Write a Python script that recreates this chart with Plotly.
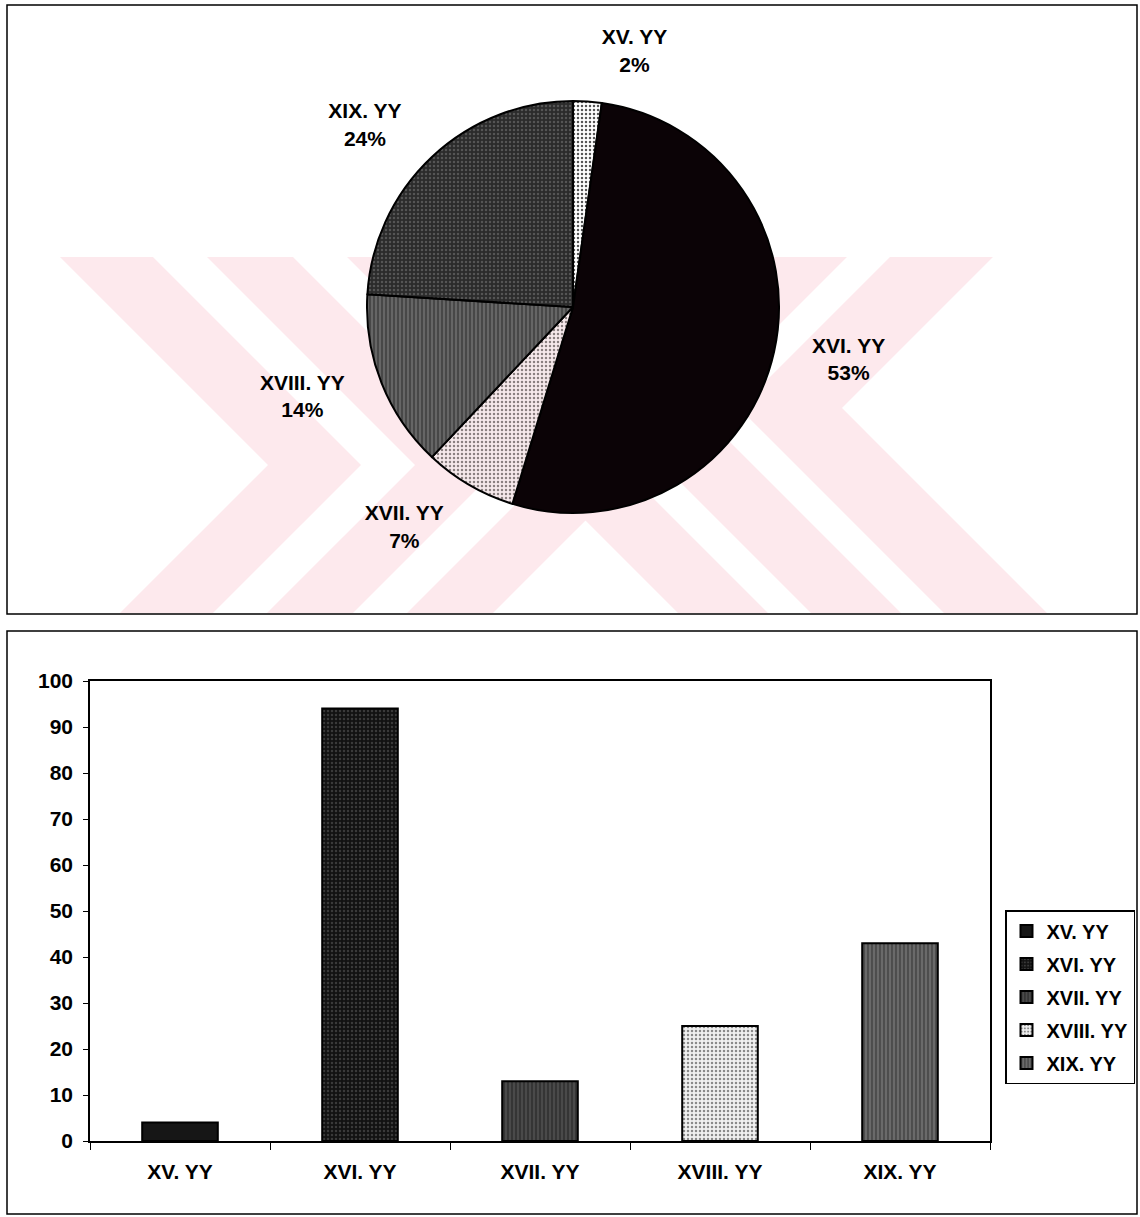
import plotly.graph_objects as go

# ---------------- data ----------------
categories = ["XV. YY", "XVI. YY", "XVII. YY", "XVIII. YY", "XIX. YY"]
counts = [4, 94, 13, 25, 43]
y_ticks = [0, 10, 20, 30, 40, 50, 60, 70, 80, 90, 100]

# ---------------- styles ----------------
W, H = 1140, 1217
FONT = "Liberation Sans, Arial, sans-serif"

pie_bg = ["#ffffff", "#0b0306", "#f6e9eb", "#666666", "#2b2b2b"]
pie_pat_shape = [".", "", ".", "|", "."]
pie_pat_fg = ["#555555", "#0b0306", "#8a8080", "#333333", "#555555"]

bar_bg = ["#161616", "#121212", "#4a4a4a", "#f0f0f0", "#6a6a6a"]
bar_pat_shape = ["", ".", "|", ".", "|"]
bar_pat_fg = ["#161616", "#3a3a3a", "#262626", "#8a8a8a", "#3a3a3a"]


def px(x):
    return x / W


def py(y):
    return 1 - y / H


def bold(size):
    return dict(family=FONT, size=size, color="#000000", weight="bold")


fig = go.Figure()

# pie centre / radius (pixels) and radius of the label ring
CX, CY, R, RL = 573, 307, 206, 232

# visible pie
fig.add_trace(go.Pie(
    labels=categories,
    values=counts,
    sort=False,
    direction="clockwise",
    rotation=0,
    textinfo="none",
    marker=dict(colors=pie_bg,
                line=dict(color="#000000", width=2),
                pattern=dict(shape=pie_pat_shape, fgcolor=pie_pat_fg,
                             bgcolor=pie_bg, fillmode="replace",
                             size=4, solidity=0.3)),
    domain=dict(x=[px(CX - R), px(CX + R)], y=[py(CY + R), py(CY - R)]),
    showlegend=False,
    hoverinfo="label+percent+value",
))

# transparent twin pie that only carries the outside labels
fig.add_trace(go.Pie(
    labels=categories,
    values=counts,
    sort=False,
    direction="clockwise",
    rotation=0,
    textposition="outside",
    texttemplate="%{label}<br>%{percent:.0%}",
    outsidetextfont=bold(21),
    marker=dict(colors=["rgba(0,0,0,0)"] * len(categories),
                line=dict(width=0)),
    domain=dict(x=[px(CX - RL), px(CX + RL)], y=[py(CY + RL), py(CY - RL)]),
    showlegend=False,
    hoverinfo="skip",
))

for i, cat in enumerate(categories):
    fig.add_trace(go.Bar(
        x=[cat], y=[counts[i]], name=cat,
        legendgroup=cat,
        width=0.42,
        marker=dict(color=bar_bg[i],
                    line=dict(color="#000000", width=2),
                    pattern=dict(shape=bar_pat_shape[i], fgcolor=bar_pat_fg[i],
                                 bgcolor=bar_bg[i], fillmode="replace",
                                 size=4, solidity=0.3)),
        xaxis="x", yaxis="y",
    ))

# watermark chevrons (decorative background)
def chevron(xt, w, yt, apy, yb, right=True):
    d1 = apy - yt
    d2 = yb - apy
    if right:
        ox = [xt, xt + d1, xt + d1 - d2]
        ix = [x + w for x in ox]
    else:
        ox = [xt, xt - d1, xt - d1 + d2]
        ix = [x - w for x in ox]
    pts = [(ox[0], yt), (ix[0], yt), (ix[1], apy), (ix[2], yb),
           (ox[2], yb), (ox[1], apy)]
    return "M " + " L ".join(f"{px(a):.5f},{py(b):.5f}" for a, b in pts) + " Z"

pink = "rgb(253,233,237)"
shapes = []
for xt, w in [(60, 93), (207, 86), (347, 86)]:
    shapes.append(dict(type="path", xref="paper", yref="paper",
                       path=chevron(xt, w, 257, 465, 613, True),
                       fillcolor=pink, line=dict(width=0), layer="below"))
for xt, w in [(993, 103), (847, 90), (714, 90)]:
    shapes.append(dict(type="path", xref="paper", yref="paper",
                       path=chevron(xt, w, 257, 408, 613, False),
                       fillcolor=pink, line=dict(width=0), layer="below"))

# panel frames
shapes.append(dict(type="rect", xref="paper", yref="paper",
                   x0=px(7), x1=px(1137), y0=py(614), y1=py(5),
                   line=dict(color="#000000", width=1.5), layer="above"))
shapes.append(dict(type="rect", xref="paper", yref="paper",
                   x0=px(7), x1=px(1137), y0=py(1214), y1=py(631),
                   line=dict(color="#000000", width=1.5), layer="above"))

fig.update_layout(
    width=W, height=H,
    margin=dict(l=0, r=0, t=0, b=0, autoexpand=False),
    paper_bgcolor="#ffffff",
    plot_bgcolor="#ffffff",
    barmode="overlay",
    font=bold(21),
    shapes=shapes,
    xaxis=dict(domain=[px(90), px(990)], anchor="y",
               showline=True, linecolor="#000000", linewidth=1.5, mirror=True,
               ticks="outside", ticklen=7, tickcolor="#000000",
               tickson="boundaries", showgrid=False,
               ticklabelstandoff=11,
               tickfont=bold(21)),
    yaxis=dict(domain=[py(1141), py(681)], anchor="x",
               range=[0, 100], tickvals=y_ticks,
               showline=True, linecolor="#000000", linewidth=1.5, mirror=True,
               ticks="outside", ticklen=5, tickcolor="#000000",
               showgrid=False, zeroline=False,
               ticklabelstandoff=6,
               tickfont=bold(21)),
    legend=dict(x=px(1005), y=py(910), xanchor="left", yanchor="top",
                bordercolor="#000000", borderwidth=1.5, bgcolor="#ffffff",
                font=bold(20), itemwidth=30, tracegroupgap=4,
                itemclick=False),
)

fig.write_html("out.html")
